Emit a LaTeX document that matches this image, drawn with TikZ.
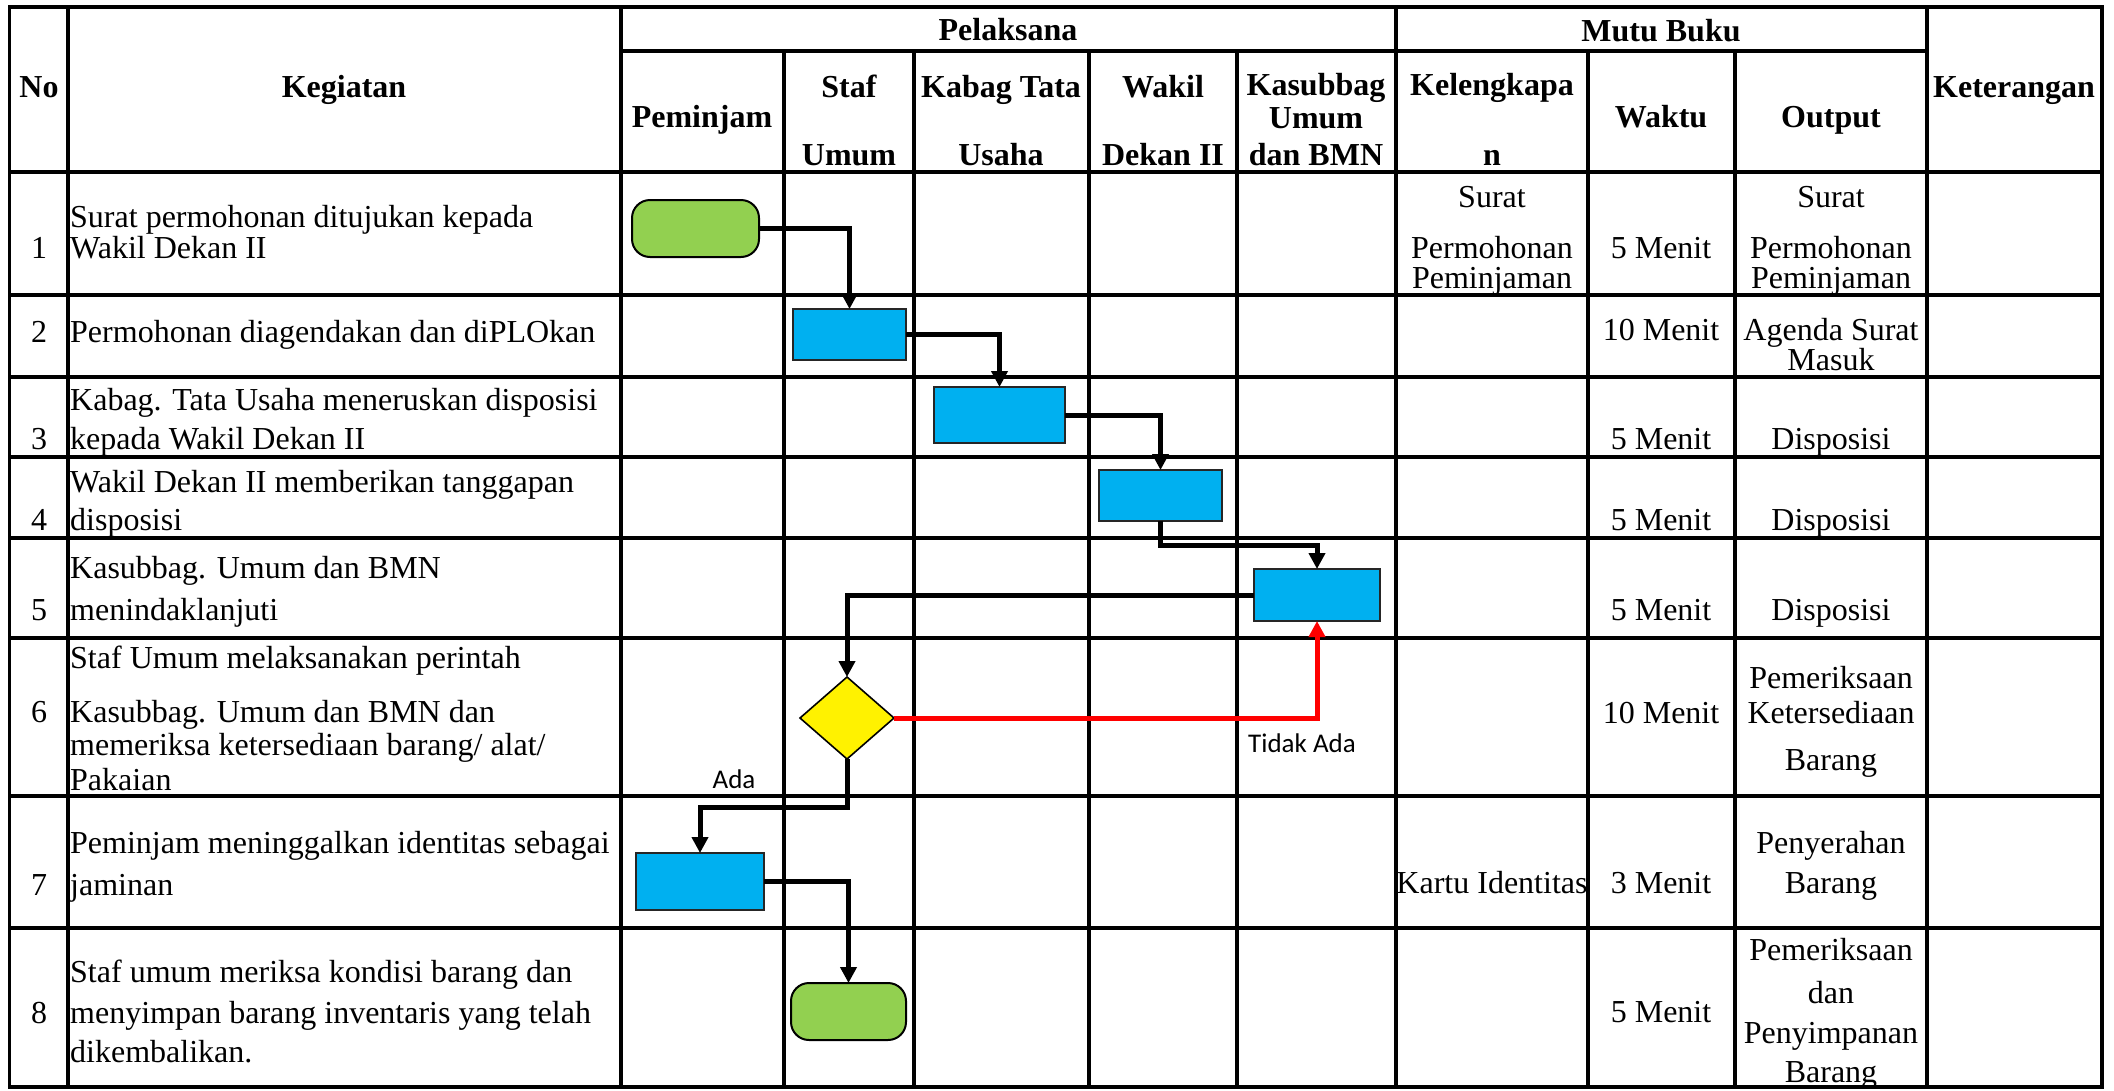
\documentclass[tikz,border=0pt]{standalone}
\usepackage{fontspec}
\setmainfont{Liberation Serif}
\newfontfamily\calib{Carlito}
\usetikzlibrary{arrows.meta,shapes.geometric}
\definecolor{procblue}{HTML}{00B0F0}
\definecolor{termgreen}{HTML}{92D050}
\begin{document}
\begin{tikzpicture}[x=1pt,y=-1pt,
  grid/.style={line width=3.4pt, line cap=rect},
  conn/.style={line width=5pt, -{Triangle[length=16pt,width=16pt]}},
  redconn/.style={line width=5pt, red, -{Triangle[length=16pt,width=16pt]}},
  proc/.style={rectangle, draw=black!85, line width=2pt, fill=procblue, inner sep=0pt, outer sep=0pt},
  term/.style={rectangle, draw=black, line width=2pt, fill=termgreen, rounded corners=18pt, inner sep=0pt, outer sep=0pt},
  dec/.style={diamond, draw=black, line width=1.6pt, fill=yellow, inner sep=0pt, outer sep=0pt},
  tx/.style={font=\fontsize{32}{32}\selectfont, inner sep=0pt, anchor=base},
  txl/.style={tx, anchor=base west},
  hd/.style={font=\fontsize{32}{32}\selectfont\bfseries, inner sep=0pt, anchor=base},
  lbl/.style={font=\calib\fontsize{27}{27}\selectfont, inner sep=0pt, anchor=base}
]
\useasboundingbox (0,0) rectangle (2114,1090);
\fill[white] (0,0) rectangle (2114,1090);

% grid
\foreach \yy in {7,172,295,377,457,538,638,796,928,1087}
  \draw[grid] (9.5,\yy) -- (2102,\yy);
\draw[grid] (621,51) -- (1927,51);
\foreach \xx in {9.5,68,621,1396,1927,2102}
  \draw[grid] (\xx,7) -- (\xx,1087);
\foreach \xx in {784,914,1089,1237,1588,1735}
  \draw[grid] (\xx,51) -- (\xx,1087);

% header
\node[hd] (hPel) at (1008,40) {Pelaksana};
\node[hd] (hMutu) at (1661,41) {Mutu Buku};
\node[hd] (hNo) at (39,97) {No};
\node[hd] (hKeg) at (344,97) {Kegiatan};
\node[hd] (hPem) at (702,127) {Peminjam};
\node[hd] (hStafA) at (849,97) {Staf};
\node[hd] (hStafB) at (849,165) {Umum};
\node[hd] (hKabA) at (1001,97) {Kabag Tata};
\node[hd] (hKabB) at (1001,165) {Usaha};
\node[hd] (hWakA) at (1163,97) {Wakil};
\node[hd] (hWakB) at (1163,165) {Dekan II};
\node[hd] (hKasA) at (1316,95) {Kasubbag};
\node[hd] (hKasB) at (1316,128) {Umum};
\node[hd] (hKasC) at (1316,165) {dan BMN};
\node[hd] (hKelA) at (1492,95) {Kelengkapa};
\node[hd] (hKelB) at (1492,165) {n};
\node[hd] (hWak) at (1661,127) {Waktu};
\node[hd] (hOut) at (1831,127) {Output};
\node[hd] (hKet) at (2014,97) {Keterangan};

% numbers
\node[tx] (n1) at (39,258) {1};
\node[tx] (n2) at (39,342) {2};
\node[tx] (n3) at (39,449) {3};
\node[tx] (n4) at (39,530) {4};
\node[tx] (n5) at (39,620) {5};
\node[tx] (n6) at (39,722) {6};
\node[tx] (n7) at (39,895) {7};
\node[tx] (n8) at (39,1023) {8};

% kegiatan
\node[txl] (k1a) at (70,227) {Surat permohonan ditujukan kepada};
\node[txl] (k1b) at (70,258) {Wakil Dekan II};
\node[txl] (k2) at (70,342) {Permohonan diagendakan dan diPLOkan};
\node[txl] (k3a) at (70,410) {Kabag. Tata Usaha meneruskan disposisi};
\node[txl] (k3b) at (70,449) {kepada Wakil Dekan II};
\node[txl] (k4a) at (70,492) {Wakil Dekan II memberikan tanggapan};
\node[txl] (k4b) at (70,530) {disposisi};
\node[txl] (k5a) at (70,578) {Kasubbag. Umum dan BMN};
\node[txl] (k5b) at (70,620) {menindaklanjuti};
\node[txl] (k6a) at (70,668) {Staf Umum melaksanakan perintah};
\node[txl] (k6b) at (70,722) {Kasubbag. Umum dan BMN dan};
\node[txl] (k6c) at (70,755) {memeriksa ketersediaan barang/ alat/};
\node[txl] (k6d) at (70,790) {Pakaian};
\node[txl] (k7a) at (70,853) {Peminjam meninggalkan identitas sebagai};
\node[txl] (k7b) at (70,895) {jaminan};
\node[txl] (k8a) at (70,982) {Staf umum meriksa kondisi barang dan};
\node[txl] (k8b) at (70,1023) {menyimpan barang inventaris yang telah};
\node[txl] (k8c) at (70,1062) {dikembalikan.};

% kelengkapan
\node[tx] (l1a) at (1492,207) {Surat};
\node[tx] (l1b) at (1492,258) {Permohonan};
\node[tx] (l1c) at (1492,288) {Peminjaman};
\node[tx] (l7) at (1492,893) {Kartu Identitas};

% waktu
\node[tx] (w1) at (1661,258) {5 Menit};
\node[tx] (w2) at (1661,340) {10 Menit};
\node[tx] (w3) at (1661,449) {5 Menit};
\node[tx] (w4) at (1661,530) {5 Menit};
\node[tx] (w5) at (1661,620) {5 Menit};
\node[tx] (w6) at (1661,723) {10 Menit};
\node[tx] (w7) at (1661,893) {3 Menit};
\node[tx] (w8) at (1661,1022) {5 Menit};

% output
\node[tx] (o1a) at (1831,207) {Surat};
\node[tx] (o1b) at (1831,258) {Permohonan};
\node[tx] (o1c) at (1831,288) {Peminjaman};
\node[tx] (o2a) at (1831,340) {Agenda Surat};
\node[tx] (o2b) at (1831,370) {Masuk};
\node[tx] (o3) at (1831,449) {Disposisi};
\node[tx] (o4) at (1831,530) {Disposisi};
\node[tx] (o5) at (1831,620) {Disposisi};
\node[tx] (o6a) at (1831,688) {Pemeriksaan};
\node[tx] (o6b) at (1831,723) {Ketersediaan};
\node[tx] (o6c) at (1831,770) {Barang};
\node[tx] (o7a) at (1831,853) {Penyerahan};
\node[tx] (o7b) at (1831,893) {Barang};
\node[tx] (o8a) at (1831,960) {Pemeriksaan};
\node[tx] (o8b) at (1831,1003) {dan};
\node[tx] (o8c) at (1831,1043) {Penyimpanan};
\node[tx] (o8d) at (1831,1082) {Barang};

% flow shapes
\node[term, minimum width=127pt, minimum height=57pt] (t1) at (695.5,228.5) {};
\node[proc, minimum width=113pt, minimum height=51pt] (b2) at (849.5,334.5) {};
\node[proc, minimum width=131pt, minimum height=56pt] (b3) at (999.5,415) {};
\node[proc, minimum width=123pt, minimum height=51pt] (b4) at (1160.5,495.5) {};
\node[proc, minimum width=126pt, minimum height=52pt] (b5) at (1317,595) {};
\node[dec, minimum width=94pt, minimum height=82pt] (d6) at (847,718) {};
\node[proc, minimum width=128pt, minimum height=57pt] (b7) at (700,881.5) {};
\node[term, minimum width=115pt, minimum height=57pt] (t8) at (848.5,1011.5) {};

% connectors
\draw[conn] (t1.east) -| (b2.north);
\draw[conn] (b2.east) -| (b3.north);
\draw[conn] (b3.east) -| (b4.north);
\draw[conn] (b4.south) -- ++(0,24) -| (b5.north);
\draw[conn] (b5.west) -| (d6.north);
\draw[redconn] (d6.east) -| (b5.south);
\draw[conn] (d6.south) -- ++(0,48) -| (b7.north);
\draw[conn] (b7.east) -| (t8.north);

% labels
\node[lbl] (lAda) at (734,788) {Ada};
\node[lbl] (lTidak) at (1302,752) {Tidak Ada};
\end{tikzpicture}
\end{document}
